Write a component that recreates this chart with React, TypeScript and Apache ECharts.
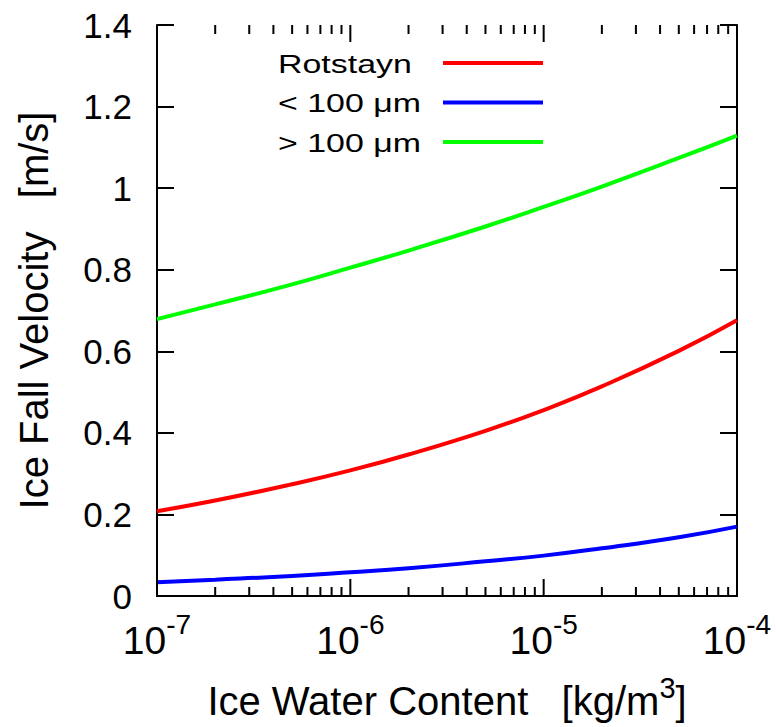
import React, { useEffect, useRef } from 'react';
import * as echarts from 'echarts';

// ---- data ----
const seriesNames = ['Rotstayn', '< 100 μm', '> 100 μm'];
const seriesColors = ['#ff0000', '#0000ff', '#00ff00'];
const iwc = [1e-7, 2e-7, 5e-7, 1e-6, 2e-6, 5e-6, 1e-5, 2e-5, 5e-5, 1e-4];
const rotstayn = [0.208, 0.234, 0.274, 0.308, 0.347, 0.405, 0.456, 0.514, 0.601, 0.676];
const smallIce = [0.034, 0.040, 0.049, 0.058, 0.068, 0.085, 0.099, 0.117, 0.144, 0.170];
const largeIce = [0.679, 0.715, 0.764, 0.805, 0.847, 0.906, 0.954, 1.004, 1.074, 1.129];
const majorTicksX = [1e-7, 1e-6, 1e-5, 1e-4];
const minorTicksX = [
  2e-7, 3e-7, 4e-7, 5e-7, 6e-7, 7e-7, 8e-7, 9e-7,
  2e-6, 3e-6, 4e-6, 5e-6, 6e-6, 7e-6, 8e-6, 9e-6,
  2e-5, 3e-5, 4e-5, 5e-5, 6e-5, 7e-5, 8e-5, 9e-5,
];
const xMin = 1e-7;
const xMax = 1e-4;
const yMin = 0;
const yMax = 1.4;
const yInterval = 0.2;

const FONT = '"Liberation Sans", Arial, Helvetica, sans-serif';

function tickSeries(values: number[], len: number) {
  return {
    type: 'custom',
    xAxisIndex: 0,
    yAxisIndex: 0,
    silent: true,
    clip: false,
    z: 5,
    data: values.map((v) => [v, yMin]),
    encode: { x: 0, y: 1 },
    renderItem: (_params: any, api: any) => {
      const v = api.value(0);
      const b = api.coord([v, yMin]);
      const t = api.coord([v, yMax]);
      return {
        type: 'group',
        children: [
          {
            type: 'line',
            shape: { x1: b[0], y1: b[1], x2: b[0], y2: b[1] - len },
            style: { stroke: '#000', lineWidth: 2 },
          },
          {
            type: 'line',
            shape: { x1: t[0], y1: t[1], x2: t[0], y2: t[1] + len },
            style: { stroke: '#000', lineWidth: 2 },
          },
        ],
      };
    },
  };
}

export default function App() {
  const ref = useRef<HTMLDivElement>(null);

  useEffect(() => {
    document.body.style.margin = '0';
    if (!ref.current) return;
    const chart = echarts.init(ref.current, undefined, { renderer: 'svg' });

    const allSeries = [rotstayn, smallIce, largeIce];

    const axisLine = () => ({ show: true, lineStyle: { color: '#000', width: 2 } });
    const yTick = () => ({ show: true, inside: true, length: 17, lineStyle: { color: '#000', width: 2 } });

    const legendTop = 63;
    const legendGap = 39.5;
    const legendGraphics: any[] = [];
    seriesNames.forEach((n, i) => {
      const y = legendTop + i * legendGap;
      legendGraphics.push({
        type: 'text',
        x: 278,
        y: y + 1,
        scaleX: 1.33,
        style: {
          text: n,
          x: 0,
          y: 0,
          fontSize: 25.5,
          fontFamily: FONT,
          fill: '#000',
          verticalAlign: 'middle',
          align: 'left',
        },
      });
      legendGraphics.push({
        type: 'line',
        shape: { x1: 443, y1: y, x2: 543, y2: y },
        style: { stroke: seriesColors[i], lineWidth: 4 },
      });
    });

    const option: any = {
      animation: false,
      backgroundColor: '#fff',
      grid: {
        left: 157,
        right: 39,
        top: 25,
        bottom: 131,
        containLabel: false,
        outerBoundsMode: 'none',
      },
      xAxis: [
        {
          type: 'log',
          logBase: 10,
          min: xMin,
          max: xMax,
          position: 'bottom',
          axisLine: axisLine(),
          axisTick: { show: false },
          splitLine: { show: false },
          axisLabel: {
            margin: 14,
            formatter: (v: number) => {
              const e = Math.round(Math.log10(v));
              return `{b|10}{s|${e}}`;
            },
            rich: {
              b: { fontSize: 39, fontFamily: FONT, color: '#000', lineHeight: 50, verticalAlign: 'bottom' },
              s: { fontSize: 28, fontFamily: FONT, color: '#000', verticalAlign: 'top' },
            },
          },
          name: '{t|Ice Water Content   [kg/m}{s|3}{t|]}',
          nameLocation: 'middle',
          nameGap: 77,
          nameTextStyle: {
            rich: {
              t: { fontSize: 40, fontFamily: FONT, color: '#000', lineHeight: 48, verticalAlign: 'bottom' },
              s: { fontSize: 29, fontFamily: FONT, color: '#000', verticalAlign: 'top' },
            },
          },
        },
        {
          type: 'log',
          logBase: 10,
          min: xMin,
          max: xMax,
          position: 'top',
          axisLine: axisLine(),
          axisTick: { show: false },
          splitLine: { show: false },
          axisLabel: { show: false },
        },
      ],
      yAxis: [
        {
          type: 'value',
          min: yMin,
          max: yMax,
          interval: yInterval,
          position: 'left',
          axisLine: axisLine(),
          axisTick: yTick(),
          splitLine: { show: false },
          axisLabel: { margin: 25, fontSize: 35, fontFamily: FONT, color: '#000' },
          name: 'Ice Fall Velocity   [m/s]',
          nameLocation: 'middle',
          nameGap: 103,
          nameTextStyle: { fontSize: 40, fontFamily: FONT, color: '#000' },
        },
        {
          type: 'value',
          min: yMin,
          max: yMax,
          interval: yInterval,
          position: 'right',
          axisLine: axisLine(),
          axisTick: yTick(),
          splitLine: { show: false },
          axisLabel: { show: false },
        },
      ],
      series: [
        ...allSeries.map((vals, i) => ({
          name: seriesNames[i],
          type: 'line',
          xAxisIndex: 0,
          yAxisIndex: 0,
          data: iwc.map((x, j) => [x, vals[j]]),
          showSymbol: false,
          smooth: true,
          lineStyle: { color: seriesColors[i], width: 4 },
          itemStyle: { color: seriesColors[i] },
        })),
        tickSeries(majorTicksX, 17),
        tickSeries(minorTicksX, 9),
      ],
      graphic: legendGraphics,
    };

    chart.setOption(option);
    return () => chart.dispose();
  }, []);

  return <div ref={ref} style={{ width: 776, height: 727 }} />;
}
